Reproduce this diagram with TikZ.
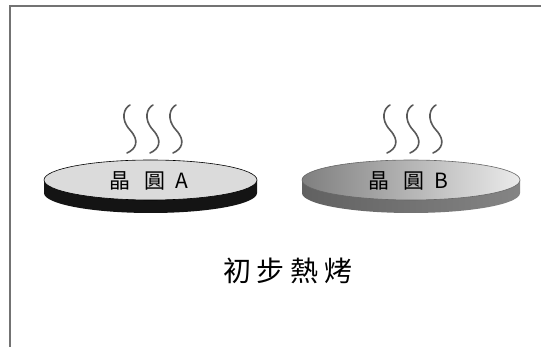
\documentclass[tikz,border=0pt]{standalone}
\usepackage{fontspec}
\newfontfamily\cjk{Noto Sans CJK TC}
\begin{document}
\begin{tikzpicture}[x=1pt,y=-1pt,
  steamline/.style={draw=black!65, line width=1.6pt, line cap=round},
  waferlabel/.style={font=\cjk\fontsize{21}{21}\selectfont, inner sep=0pt},
  captiontext/.style={font=\cjk\fontsize{28}{28}\selectfont, inner sep=0pt},
  steam/.pic={\path[steamline] (0,0) .. controls (-6,3) and (-10,14) .. (0,25)
      .. controls (10,36) and (6,44) .. (-3,48);}]
\useasboundingbox[fill=white] (0,0) rectangle (541,347);

% frame
\draw[black!55, line width=1.6pt] (10,347) -- (10,6) -- (541,6);

% wafer A: dark rim, light top face
\fill[black!92] (44,180) -- (44,193) arc[start angle=180, end angle=0, x radius=106.5, y radius=20] -- (257,180) -- cycle;
\draw[black, line width=0.6pt, fill=black!14] (150.5,180) ellipse[x radius=106.5, y radius=20];
\node[waferlabel] (labelA) at (149,181) {晶\hspace{14pt}圓\hspace{10pt}A};

% wafer B: gray rim, shaded top face
\shade[left color=black!62, right color=black!48] (302,180) -- (302,193) arc[start angle=180, end angle=0, x radius=109, y radius=20] -- (520,180) -- cycle;
\shade[left color=black!50, right color=black!8] (411,180) ellipse[x radius=109, y radius=20];
\draw[black!60, line width=0.6pt] (411,180) ellipse[x radius=109, y radius=20];
\node[waferlabel] (labelB) at (408,181) {晶\hspace{14pt}圓\hspace{10pt}B};

% rising heat
\foreach \x in {130,153,176} \pic at (\x,105) {steam};
\foreach \x in {390,413,436} \pic at (\x,105) {steam};

% caption
\node[captiontext] (caption) at (288,271) {初\hspace{6pt}步\hspace{6pt}熱\hspace{6pt}烤};
\end{tikzpicture}
\end{document}
